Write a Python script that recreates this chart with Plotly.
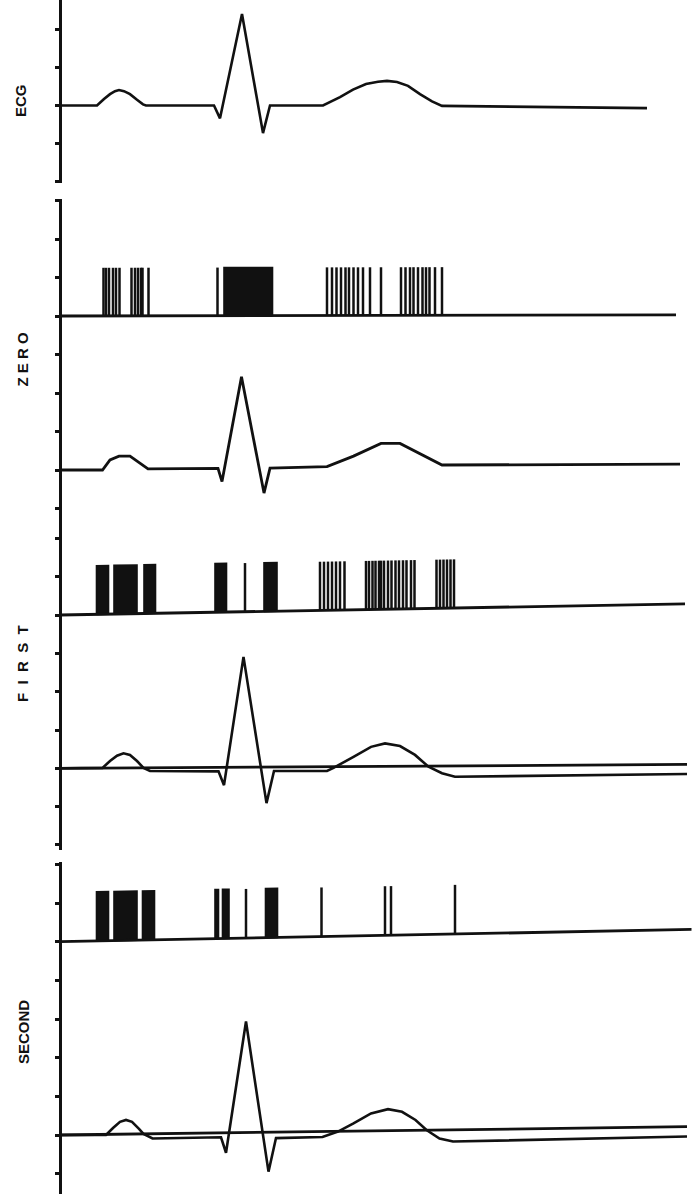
import plotly.graph_objects as go

W, H = 693, 1194

# ---------------- data (time: ms from the vertical axis, amplitude: axis divisions) ----------------
# Original ECG
ECG_T = [0, 74, 88, 100, 110, 118, 128, 140, 154, 166, 172, 308, 320, 364, 406, 420, 526,
         560, 586, 612, 636, 654, 674, 696, 720, 744, 764, 1174]
ECG_V = [0, 0, 0.17, 0.30, 0.38, 0.41, 0.38, 0.30, 0.15, 0.03, 0, 0, -0.34, 2.42, -0.73, 0, 0,
         0.22, 0.42, 0.57, 0.63, 0.65, 0.62, 0.52, 0.30, 0.11, -0.01, -0.07]

# ZERO order: spike train and reconstruction
ZERO_SPIKES = [87, 92, 98, 106, 112, 119, 143, 150, 156, 162, 165, 177, 315,
               534, 544, 553, 562, 571, 578, 587, 596, 606, 620, 642,
               682, 691, 700, 707, 716, 725, 732, 739, 750, 764]
ZERO_BURST_START = [328]
ZERO_BURST_END = [425]
ZERO_SPIKE_H = 1.25
ZERO_LINE_END = 1232
ZERO_LINE_DRIFT = 0.03
ZERO_ECG_T = [0, 85, 100, 118, 140, 160, 176, 316, 324, 363, 408, 420, 534, 587, 642, 680, 720, 764, 1240]
ZERO_ECG_V = [0, 0, 0.26, 0.36, 0.36, 0.18, 0.03, 0.04, -0.30, 2.42, -0.60, 0.05, 0.09, 0.36, 0.69, 0.69,
              0.42, 0.13, 0.15]

# FIRST order
FIRST_SPIKES = [370, 520, 528, 536, 544, 552, 560, 569,
                612, 618, 625, 631, 638, 642, 648, 656, 663, 671, 678, 686, 693, 702, 709,
                753, 760, 767, 774, 781, 788]
FIRST_BURST_START = [73, 108, 168, 310, 408]
FIRST_BURST_END = [97, 154, 191, 333, 434]
FIRST_SPIKE_H = 1.27
FIRST_LINE_END = 1250
FIRST_LINE_DRIFT = 0.29
FIRST_ECG_T = [0, 85, 100, 114, 127, 140, 154, 167, 180, 317, 328, 367, 413, 428, 534, 547, 587, 622, 650,
               680, 710, 737, 764, 790, 1254]
FIRST_ECG_V = [0, 0.01, 0.19, 0.33, 0.39, 0.35, 0.19, 0.01, -0.07, -0.08, -0.44, 2.91, -0.91, -0.07, -0.07,
               0.01, 0.30, 0.56, 0.65, 0.58, 0.35, 0.04, -0.13, -0.22, -0.15]
FIRST_REF_END = 1254
FIRST_REF_DRIFT = 0.10

# SECOND order
SECOND_SPIKES = [372, 523, 650, 662, 790]
SECOND_BURST_START = [73, 108, 165, 310, 325, 411]
SECOND_BURST_END = [97, 154, 189, 317, 338, 435]
SECOND_SPIKE_H = 1.28
SECOND_LINE_END = 1263
SECOND_LINE_DRIFT = 0.32
SECOND_ECG_T = [0, 92, 106, 120, 132, 144, 158, 167, 185, 322, 332, 372, 417, 432, 525, 556, 587, 622, 656,
                684, 711, 733, 759, 786, 1254]
SECOND_ECG_V = [0, 0, 0.18, 0.34, 0.39, 0.34, 0.16, 0.03, -0.09, -0.06, -0.46, 2.94, -0.95, -0.08, -0.05,
                0.09, 0.30, 0.56, 0.67, 0.60, 0.39, 0.13, -0.09, -0.17, -0.04]
SECOND_REF_END = 1254
SECOND_REF_DRIFT = 0.215

LABELS = ["ECG", "Z\u00a0E\u00a0R\u00a0O", "F\u00a0\u00a0I\u00a0\u00a0R\u00a0\u00a0S\u00a0\u00a0T", "SECOND"]

# ---------------- layout helpers (pixel geometry of the panels) ----------------
# (top px, bottom px, baseline px, px per division)
PANELS = [
    (0, 183, 105.5, 37.8),
    (199, 335, 316, 38.5),
    (335, 520, 470, 38.5),
    (520, 630, 615, 38.3),
    (630, 850, 768.3, 38.3),
    (862, 960, 941.7, 38.4),
    (960, 1194, 1135, 38.6),
]
AXIS_PX = 60
LABEL_POS = [(20, 101), (21.5, 359), (22, 664), (23, 1032)]

INK = "#111111"
fig = go.Figure()


def yname(i):
    return "y" if i == 0 else f"y{i + 1}"


def add_line(t, v, i, width=2.6):
    fig.add_trace(go.Scatter(x=t, y=v, mode="lines", xaxis="x", yaxis=yname(i),
                             line=dict(color=INK, width=width), hoverinfo="skip", showlegend=False))


def add_spikes(spikes, b0, b1, h, line_end, drift, i):
    base = lambda t: drift * t / line_end
    xs, ys = [], []
    for t in spikes:
        xs += [t, t, None]
        ys += [base(t), base(t) + h, None]
    fig.add_trace(go.Scatter(x=xs, y=ys, mode="lines", xaxis="x", yaxis=yname(i),
                             line=dict(color=INK, width=2.5), hoverinfo="skip", showlegend=False))
    px, py = [], []
    for s, e in zip(b0, b1):
        px += [s, s, e, e, s, None]
        py += [base(s), base(s) + h, base(e) + h, base(e), base(s), None]
    fig.add_trace(go.Scatter(x=px, y=py, mode="lines", fill="toself", fillcolor=INK, xaxis="x",
                             yaxis=yname(i), line=dict(color=INK, width=1.6), hoverinfo="skip",
                             showlegend=False))
    add_line([0, line_end], [0, drift], i, width=2.8)


add_line(ECG_T, ECG_V, 0)
add_spikes(ZERO_SPIKES, ZERO_BURST_START, ZERO_BURST_END, ZERO_SPIKE_H, ZERO_LINE_END, ZERO_LINE_DRIFT, 1)
add_line(ZERO_ECG_T, ZERO_ECG_V, 2, width=2.8)
add_spikes(FIRST_SPIKES, FIRST_BURST_START, FIRST_BURST_END, FIRST_SPIKE_H, FIRST_LINE_END, FIRST_LINE_DRIFT, 3)
add_line([0, FIRST_REF_END], [0, FIRST_REF_DRIFT], 4, width=2.8)
add_line(FIRST_ECG_T, FIRST_ECG_V, 4)
add_spikes(SECOND_SPIKES, SECOND_BURST_START, SECOND_BURST_END, SECOND_SPIKE_H, SECOND_LINE_END,
           SECOND_LINE_DRIFT, 5)
add_line([0, SECOND_REF_END], [0, SECOND_REF_DRIFT], 6, width=2.8)
add_line(SECOND_ECG_T, SECOND_ECG_V, 6)

ms_per_px = 2.0
layout = dict(
    width=W, height=H, margin=dict(l=0, r=0, t=0, b=0),
    paper_bgcolor="white", plot_bgcolor="rgba(0,0,0,0)",
    xaxis=dict(domain=[0, 1], range=[-AXIS_PX * ms_per_px, (W - AXIS_PX) * ms_per_px],
               visible=False, anchor="y7"),
    annotations=[],
)
for i, (top, bot, base, s) in enumerate(PANELS):
    key = "yaxis" if i == 0 else f"yaxis{i + 1}"
    layout[key] = dict(
        domain=[1 - bot / H, 1 - top / H],
        range=[-(bot - base) / s, (base - top) / s],
        anchor="free", position=AXIS_PX / W,
        showline=True, linecolor=INK, linewidth=2.6,
        ticks="outside", ticklen=4, tickwidth=2.6, tickcolor=INK,
        tick0=0, dtick=1, showticklabels=False,
        showgrid=False, zeroline=False, fixedrange=True,
    )
for lab, (lx, ly) in zip(LABELS, LABEL_POS):
    layout["annotations"].append(dict(
        text=f"<b>{lab}</b>", x=lx / W, y=1 - ly / H, xref="paper", yref="paper",
        showarrow=False, textangle=-90, xanchor="center", yanchor="middle",
        font=dict(family="Liberation Sans, Arial, sans-serif", size=15, color=INK)))

fig.update_layout(**layout)
fig.write_html("out.html")
